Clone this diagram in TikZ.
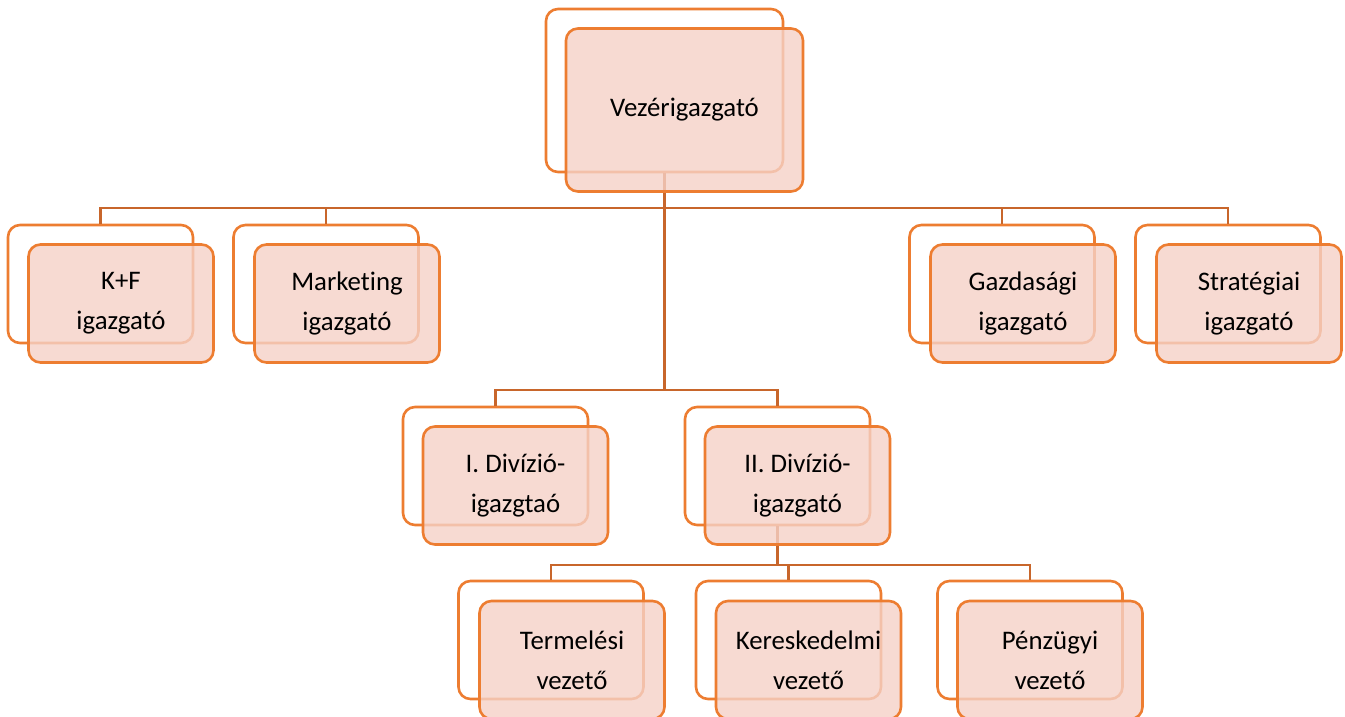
\documentclass[tikz,border=0pt]{standalone}
\usepackage{fontspec}
\setmainfont{Carlito}[Ligatures={NoCommon,NoRequired,NoContextual}]
\definecolor{boxline}{RGB}{237,125,49}
\definecolor{boxfill}{RGB}{245,209,199}
\definecolor{linkline}{RGB}{200,102,43}
\begin{document}
\begin{tikzpicture}[x=1pt,y=-1pt,
  backbox/.style={draw=boxline, line width=2.6pt, fill=white, rounded corners=12pt,
    inner sep=0pt, minimum width=185pt, minimum height=118pt},
  frontbox/.style={draw=boxline, line width=2.6pt, fill=boxfill, fill opacity=0.8,
    text opacity=1, rounded corners=12pt, inner sep=0pt, minimum width=185pt,
    minimum height=118pt, align=center, font=\fontsize{26.8}{40}\selectfont},
  topsize/.style={minimum width=237pt, minimum height=163pt},
  link/.style={draw=linkline, line width=2.6pt}]
\useasboundingbox (0,0) rectangle (1345,717);

% bus levels of the connectors
\coordinate (busA) at (0,208);
\coordinate (busB) at (0,390);
\coordinate (busC) at (0,565);

% back (shadow) boxes
\node[backbox, topsize] (ceoB) at (664.5,90.5) {};
\node[backbox] (kfB)  at (100.5,284) {};
\node[backbox] (mkB)  at (326,284) {};
\node[backbox] (gzB)  at (1002,284) {};
\node[backbox] (stB)  at (1228,284) {};
\node[backbox] (d1B)  at (495.5,466) {};
\node[backbox] (d2B)  at (777.5,466) {};
\node[backbox] (tvB)  at (551,640) {};
\node[backbox] (kvB)  at (788.5,640) {};
\node[backbox] (pvB)  at (1030,640) {};

% connectors
\draw[link] (ceoB.south) -- (ceoB.south |- busA) -| (kfB.north);
\draw[link] (ceoB.south) -- (ceoB.south |- busA) -| (mkB.north);
\draw[link] (ceoB.south) -- (ceoB.south |- busA) -| (gzB.north);
\draw[link] (ceoB.south) -- (ceoB.south |- busA) -| (stB.north);
\draw[link] (ceoB.south) -- (ceoB.south |- busB) -| (d1B.north);
\draw[link] (ceoB.south) -- (ceoB.south |- busB) -| (d2B.north);
\draw[link] (d2B.south) -- (d2B.south |- busC) -| (tvB.north);
\draw[link] (d2B.south) -- (d2B.south |- busC) -| (kvB.north);
\draw[link] (d2B.south) -- (d2B.south |- busC) -| (pvB.north);

% front boxes with the titles
\node[frontbox, topsize] (ceo) at (684.5,110) {Vezérigazgató};
\node[frontbox] (kf) at (121,303.5) {K+F\\igazgató};
\node[frontbox] (mk) at (347,303.5) {Marketing\\igazgató};
\node[frontbox] (gz) at (1023,303.5) {Gazdasági\\igazgató};
\node[frontbox] (st) at (1249,303.5) {Stratégiai\\igazgató};
\node[frontbox] (d1) at (515.5,485.5) {I. Divízió-\\igazgtaó};
\node[frontbox] (d2) at (797.5,485.5) {II. Divízió-\\igazgató};
\node[frontbox] (tv) at (572,660) {Termelési\\vezető};
\node[frontbox] (kv) at (808.5,660) {Kereskedelmi\\vezető};
\node[frontbox] (pv) at (1050,660) {Pénzügyi\\vezető};
\end{tikzpicture}
\end{document}
